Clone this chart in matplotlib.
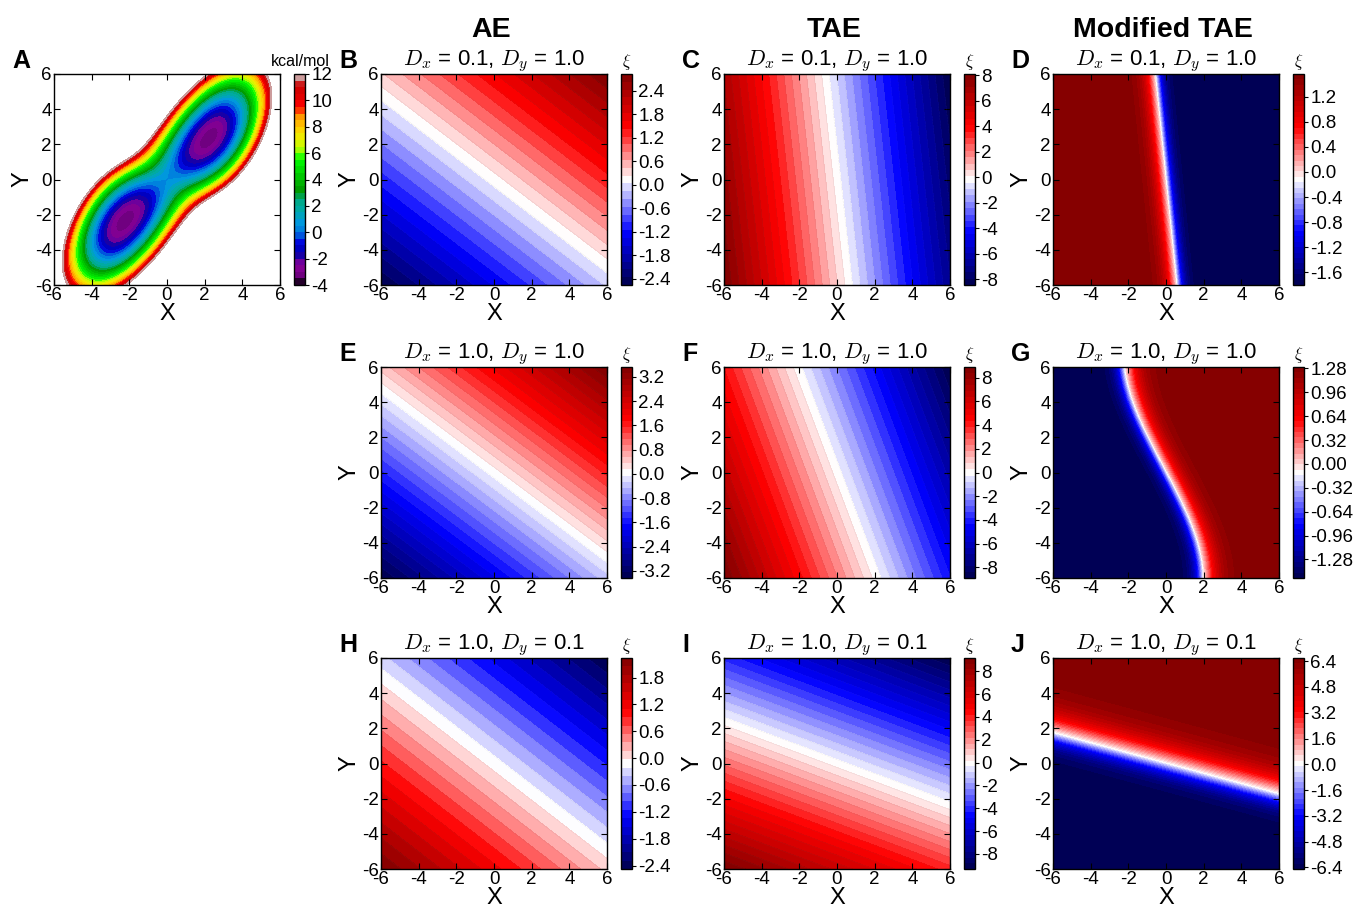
import numpy as np
import matplotlib
matplotlib.use("Agg")
import matplotlib.pyplot as plt

plt.rcParams["font.family"] = ["Liberation Sans", "DejaVu Sans"]
plt.rcParams["mathtext.fontset"] = "cm"
plt.rcParams["axes.unicode_minus"] = False

W, H = 1353, 907

# ---- panel A : double well potential (kcal/mol) ----
well_u0 = 3.25        # minima at (+-2.3, +-2.3)  -> along diagonal
well_k_u = 0.66       # curvature along the valley
well_k_v = 2.3        # curvature across the valley
well_soft = 4.6       # softens the barrier between the two wells
well_bend = 0.2       # valley turns steeper beyond the minima
well_bend_w = 2.5
well_min = -3.3
pot_levels = np.arange(-4, 12.01, 0.5)
pot_ticks = [-4, -2, 0, 2, 4, 6, 8, 10, 12]

# ---- AE / TAE panels : xi = px*x + py*y + c ----
lin_panels = ["B", "C", "E", "F", "H", "I"]
lin_px = [0.202, -1.25, 0.258, -1.10, -0.178, -0.44]
lin_py = [0.247, -0.129, 0.322, -0.385, -0.215, -1.10]
lin_c = [0.13, -0.175, 0.045, 0.0, -0.12, -0.08]
lin_nlev = [28, 34, 36, 36, 26, 38]

# ---- modified TAE panels : sharp switch across a boundary ----
# D: boundary x = d_b0 + d_b1*y, red on the left
d_b0, d_b1 = -0.05, -0.095
d_hi, d_lo, d_whi, d_wlo = 1.56, -1.80, 0.7, 0.5
g_by = [6, 4, 2, 0, -2, -4, -6]
g_bx = [-2.15, -1.6, -0.9, 0.05, 1.17, 1.7, 2.06]
g_hi, g_lo, g_whi, g_wlo = 1.30, -1.53, 0.9, 0.6
# J: boundary y = j_b0 + j_b1*x, red on top
j_b0, j_b1 = 0.05, -0.29
j_hi, j_lo, j_whi, j_wlo = 6.6, -6.5, 1.4, 0.9

cbar_ticks = {
    "B": [-2.4, -1.8, -1.2, -0.6, 0.0, 0.6, 1.2, 1.8, 2.4],
    "C": [-8, -6, -4, -2, 0, 2, 4, 6, 8],
    "D": [-1.6, -1.2, -0.8, -0.4, 0.0, 0.4, 0.8, 1.2],
    "E": [-3.2, -2.4, -1.6, -0.8, 0.0, 0.8, 1.6, 2.4, 3.2],
    "F": [-8, -6, -4, -2, 0, 2, 4, 6, 8],
    "G": [-1.28, -0.96, -0.64, -0.32, 0.0, 0.32, 0.64, 0.96, 1.28],
    "H": [-2.4, -1.8, -1.2, -0.6, 0.0, 0.6, 1.2, 1.8],
    "I": [-8, -6, -4, -2, 0, 2, 4, 6, 8],
    "J": [-6.4, -4.8, -3.2, -1.6, 0.0, 1.6, 3.2, 4.8, 6.4],
}
cbar_fmt = {"B": "%.1f", "C": "%d", "D": "%.1f", "E": "%.1f", "F": "%d",
            "G": "%.2f", "H": "%.1f", "I": "%d", "J": "%.1f"}
mod_nlev = {"D": 40, "G": 40, "J": 40}

col_titles = ["AE", "TAE", "Modified TAE"]
row_sub = [r"$D_x$ = 0.1, $D_y$ = 1.0", r"$D_x$ = 1.0, $D_y$ = 1.0",
           r"$D_x$ = 1.0, $D_y$ = 0.1"]
grid_letters = [["B", "C", "D"], ["E", "F", "G"], ["H", "I", "J"]]

# layout in pixels
col_left = [54, 381, 724, 1053]
row_top = [74, 367, 658]
ax_w, ax_h = 226, 211

x = np.linspace(-6, 6, 301)
X, Y = np.meshgrid(x, x)


def split(d, hi, lo, w_hi, w_lo):
    # positive side rises to hi, negative side falls to lo
    return np.where(d > 0, hi * np.tanh(d / w_hi), -lo * np.tanh(d / w_lo))


def field(name):
    if name in lin_panels:
        i = lin_panels.index(name)
        return lin_px[i] * X + lin_py[i] * Y + lin_c[i]
    if name == "D":
        return split((d_b0 + d_b1 * Y) - X, d_hi, d_lo, d_whi, d_wlo)
    if name == "G":
        coef = np.polyfit(g_by, g_bx, 3)
        return split(X - np.polyval(coef, Y), g_hi, g_lo, g_whi, g_wlo)
    if name == "J":
        return split(Y - (j_b0 + j_b1 * X), j_hi, j_lo, j_whi, j_wlo)


fig = plt.figure(figsize=(W / 100, H / 100), dpi=100)


def px_axes(left, top, w, h):
    return fig.add_axes([left / W, 1 - (top + h) / H, w / W, h / H])


def style_axes(ax):
    ax.set_xlim(-6, 6)
    ax.set_ylim(-6, 6)
    ax.set_xticks(range(-6, 7, 2))
    ax.set_yticks(range(-6, 7, 2))
    ax.tick_params(direction="in", length=4, width=0.8, top=True, right=True,
                   labelsize=13.5, pad=1.5)
    ax.set_xlabel("X", fontsize=17, labelpad=-1)
    ax.set_ylabel("Y", fontsize=17, labelpad=1)
    for s in ax.spines.values():
        s.set_linewidth(1.0)


def add_cbar(cs, left, top, ticks, fmt, label):
    cax = px_axes(left + ax_w + 14, top, 11, ax_h)
    cb = fig.colorbar(cs, cax=cax, ticks=ticks, format=fmt)
    cb.ax.tick_params(direction="out", length=3, width=0.8, labelsize=13.5,
                      pad=1.5)
    cb.outline.set_linewidth(1.0)
    cax.text(0.5, 1.01, label, transform=cax.transAxes, ha="center",
             va="bottom", fontsize=12)
    return cb


def letter(left, top, s):
    fig.text((left - 42) / W, 1 - (top - 13) / H, s, fontsize=18,
             fontweight="bold", ha="left", va="center")


# ---- panel A ----
u = (X + Y) / np.sqrt(2)
v = (Y - X) / np.sqrt(2)
pa = well_k_u * (u - well_u0) ** 2
pb = well_k_u * (u + well_u0) ** 2
f_u = -well_soft * np.log(np.exp(-pa / well_soft) + np.exp(-pb / well_soft))
f_u = f_u - f_u.min()
g_u = well_bend * (u - well_u0 * np.tanh(u / well_bend_w))
V = well_min + f_u + well_k_v * (v - g_u) ** 2

axA = px_axes(col_left[0], row_top[0], ax_w, ax_h)
csA = axA.contourf(X, Y, V, levels=pot_levels, cmap="nipy_spectral")
style_axes(axA)
cbA = add_cbar(csA, col_left[0], row_top[0], pot_ticks, "%d", "")
fig.text((col_left[0] + ax_w + 20) / W, 1 - 62 / H, "kcal/mol", fontsize=11.5,
         ha="center", va="center")
letter(col_left[0], row_top[0], "A")

# ---- xi panels ----
for r in range(3):
    for c in range(3):
        name = grid_letters[r][c]
        left, top = col_left[c + 1], row_top[r]
        ax = px_axes(left, top, ax_w, ax_h)
        Z = field(name)
        if name in lin_panels:
            n = lin_nlev[lin_panels.index(name)]
        else:
            n = mod_nlev[name]
        levels = np.linspace(Z.min(), Z.max(), n)
        cs = ax.contourf(X, Y, Z, levels=levels, cmap="seismic")
        if name in lin_panels:
            ax.contour(X, Y, Z, levels=levels[1:-1], colors="0.4",
                       linewidths=0.4, alpha=0.12)
        style_axes(ax)
        ax.text(0.5, 1 + 9 / ax_h, row_sub[r], transform=ax.transAxes,
                ha="center", va="baseline", fontsize=16)
        add_cbar(cs, left, top, cbar_ticks[name], cbar_fmt[name], r"$\xi$")
        letter(left, top, name)
        if r == 0:
            fig.text((left + ax_w / 2 - 3) / W, 1 - 30 / H, col_titles[c],
                     fontsize=20.5, fontweight="bold", ha="center", va="center")

fig.savefig("out.png", dpi=100)
